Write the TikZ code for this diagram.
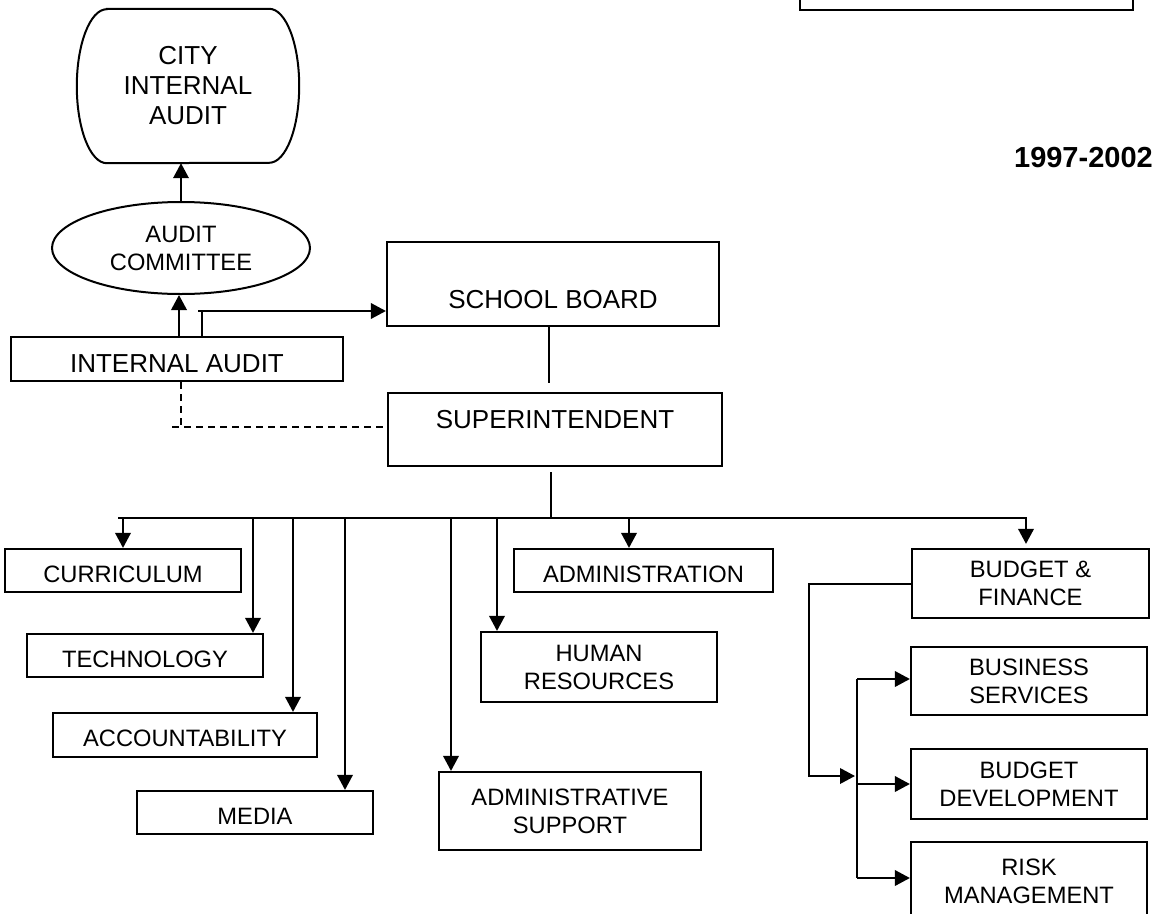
\documentclass[tikz,border=0pt]{standalone}
\usepackage{fontspec}
\setmainfont{Liberation Sans}
\usetikzlibrary{arrows.meta,shapes.geometric}
\begin{document}
\begin{tikzpicture}[x=1pt,y=-1pt,
  every node/.style={font=\fontsize{23.7}{28}\selectfont, align=center, inner sep=0pt},
  big/.style={font=\fontsize{26}{30}\selectfont},
  box/.style={draw, line width=2.2pt, rectangle},
  low/.style={text height=23pt, text depth=0pt},
  conn/.style={line width=2pt},
  arr/.style={conn, -{Triangle[length=15pt,width=15.5pt]}},
  dashconn/.style={conn, dash pattern=on 7pt off 5pt},
]
\useasboundingbox (0,0) rectangle (1162,913);
\clip (0,0) rectangle (1162,913);

% top-right empty box (cut by the page edge)
\node[box, minimum width=333pt, minimum height=40pt] (topbox) at (966.5,-10) {};

% year
\node[font=\bfseries\fontsize{29}{32}\selectfont, anchor=base east] (year) at (1153,167) {1997-2002};

% city internal audit
\node[big, minimum width=222pt, minimum height=154pt] (cia) at (188,86) {CITY\\INTERNAL\\AUDIT};
\draw[line width=2pt] ([xshift=30pt]cia.north west) -- ([xshift=-30pt]cia.north east)
  arc[start angle=90, end angle=-90, x radius=30pt, y radius=77pt]
  -- ([xshift=30pt]cia.south west)
  arc[start angle=270, end angle=90, x radius=30pt, y radius=77pt] -- cycle;

% audit committee
\node[draw, ellipse, line width=2pt, minimum width=258pt, minimum height=92pt] (ac) at (181,248) {AUDIT\\COMMITTEE};

% internal audit, board, superintendent
\node[box, big, minimum width=332pt, minimum height=44pt, text height=27.2pt, text depth=0pt] (ia) at (177,359) {INTERNAL AUDIT};
\node[box, big, minimum width=332pt, minimum height=84pt, text height=49.6pt, text depth=0pt] (sb) at (553,284) {SCHOOL BOARD};
\node[box, big, minimum width=334pt, minimum height=73pt, text height=18.6pt, text depth=20pt] (sup) at (555,429.5) {SUPERINTENDENT};

% departments
\node[box, low, minimum width=236pt, minimum height=43pt] (curr) at (123,570.5) {CURRICULUM};
\node[box, low, minimum width=236pt, minimum height=43pt] (tech) at (145,655.5) {TECHNOLOGY};
\node[box, low, minimum width=264pt, minimum height=44pt] (acc) at (185,735) {ACCOUNTABILITY};
\node[box, low, minimum width=236pt, minimum height=43pt] (media) at (255,812.5) {MEDIA};
\node[box, low, minimum width=259pt, minimum height=43pt] (adm) at (643.5,570.5) {ADMINISTRATION};
\node[box, minimum width=236pt, minimum height=70pt] (hr) at (599,667) {HUMAN\\RESOURCES};
\node[box, minimum width=262pt, minimum height=78pt] (as) at (570,811) {ADMINISTRATIVE\\SUPPORT};
\node[box, minimum width=237pt, minimum height=69pt] (bf) at (1030.5,583.5) {BUDGET \&\\FINANCE};
\node[box, minimum width=236pt, minimum height=68pt] (bs) at (1029,681) {BUSINESS\\SERVICES};
\node[box, minimum width=236pt, minimum height=70pt] (bd) at (1029,784) {BUDGET\\DEVELOPMENT};
\node[box, minimum width=236pt, minimum height=78pt] (rm) at (1029,881) {RISK\\MANAGEMENT};

% audit connectors
\draw[arr] (ac.north) -- (ac.north |- cia.south);
\draw[arr] ([xshift=2pt]ia.north) -- ([xshift=2pt]ia.north |- ac.south);
\coordinate (iaj) at (202,311);
\draw[conn] (iaj |- ia.north) -- (iaj);
\draw[arr] ([xshift=-4pt]iaj) -- (iaj -| sb.west);
\coordinate (dj) at (181,427);
\draw[dashconn] (dj |- ia.south) -- (dj);
\draw[dashconn] ([xshift=-9pt]dj) -- (dj -| sup.west);

% board to superintendent
\draw[conn] ([xshift=-4pt]sb.south) -- ([xshift=-6pt,yshift=9pt]sup.north);

% bus
\coordinate (busL) at (118,518);
\coordinate (busR) at (1027,518);
\draw[conn] ([xshift=-4pt,yshift=-5pt]sup.south) -- ([xshift=-4pt]sup.south |- busL);
\draw[conn] (busL) -- (busR);

\draw[arr] (curr.north |- busL) -- (curr.north);
\draw[arr] ([xshift=108pt]tech.north |- busL) -- ([xshift=108pt]tech.north);
\draw[arr] ([xshift=108pt]acc.north |- busL) -- ([xshift=108pt]acc.north);
\draw[arr] ([xshift=90pt]media.north |- busL) -- ([xshift=90pt]media.north);
\draw[arr] ([xshift=-119pt]as.north |- busL) -- ([xshift=-119pt]as.north);
\draw[arr] ([xshift=-102pt]hr.north |- busL) -- ([xshift=-102pt]hr.north);
\draw[arr] ([xshift=-14.5pt]adm.north |- busL) -- ([xshift=-14.5pt]adm.north);
\draw[arr] ([xshift=-4.5pt]bf.north |- busL) -- ([xshift=-4.5pt,yshift=4pt]bf.north);

% budget & finance branch
\coordinate (bfd) at (809,776);
\coordinate (vtop) at (857,679);
\coordinate (vbot) at (857,878);
\draw[arr] (bf.west) -- (bf.west -| bfd) -- (bfd) -- ([xshift=-2pt]bfd -| vtop);
\draw[conn] (vtop) -- (vbot);
\draw[arr] (vtop) -- (vtop -| bs.west);
\draw[arr] (vtop |- bd.west) -- (bd.west);
\draw[arr] (vbot) -- (vbot -| rm.west);
\end{tikzpicture}
\end{document}
